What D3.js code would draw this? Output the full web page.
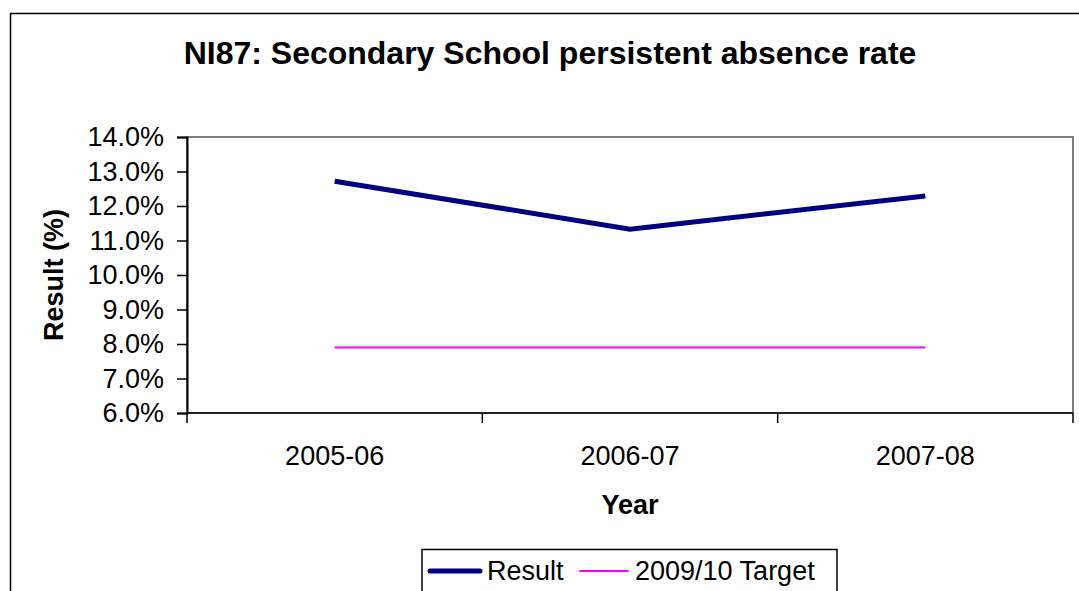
<!DOCTYPE html>
<html>
<head>
<meta charset="utf-8">
<script src="https://cdn.jsdelivr.net/npm/d3@7"></script>
<style>
  html, body { margin: 0; padding: 0; background: #fff; }
  svg { display: block; font-family: "Liberation Sans", Arial, sans-serif; }
</style>
</head>
<body>
<svg id="chart" width="1079" height="591"></svg>
<script>
const categories = ["2005-06", "2006-07", "2007-08"];
const resultValues = [12.72, 11.33, 12.29];
const targetValues = [7.9, 7.9, 7.9];
const yTicks = [6, 7, 8, 9, 10, 11, 12, 13, 14];
const seriesNames = ["Result", "2009/10 Target"];

const svg = d3.select("#chart");
const plot = { left: 187, top: 137, right: 1073, bottom: 413 };

// outer chart border
svg.append("rect")
  .attr("x", 10.5).attr("y", 13.5)
  .attr("width", 1100).attr("height", 700)
  .attr("fill", "#fff").attr("stroke", "#000").attr("stroke-width", 1.5);

const x = d3.scaleBand().domain(categories).range([plot.left, plot.right]).padding(0);
const y = d3.scaleLinear().domain([6, 14]).range([plot.bottom, plot.top]);

// plot area border (gray)
svg.append("rect")
  .attr("x", plot.left).attr("y", plot.top)
  .attr("width", plot.right - plot.left).attr("height", plot.bottom - plot.top)
  .attr("fill", "#fff").attr("stroke", "#808080").attr("stroke-width", 2);

// Title
svg.append("text")
  .attr("x", 550).attr("y", 64)
  .attr("text-anchor", "middle")
  .attr("font-size", 32).attr("font-weight", "bold")
  .text("NI87: Secondary School persistent absence rate");

// Y axis
const yAxis = d3.axisLeft(y).tickValues(yTicks).tickSize(10).tickPadding(13)
  .tickFormat(d => d3.format(".1f")(d) + "%");
const gy = svg.append("g").attr("transform", `translate(${plot.left},0)`).call(yAxis);
gy.select(".domain").attr("stroke", "#000").attr("stroke-width", 2);
gy.selectAll(".tick line").attr("stroke", "#000").attr("stroke-width", 1.5);
gy.selectAll(".tick text").attr("font-size", 27).attr("fill", "#000")
  .attr("font-family", "'Liberation Sans', Arial, sans-serif");

// X axis: ticks at category boundaries
const boundaries = categories.map(c => x(c)).concat([plot.right]);
const gx = svg.append("g");
gx.append("line")
  .attr("x1", plot.left).attr("x2", plot.right)
  .attr("y1", plot.bottom).attr("y2", plot.bottom)
  .attr("stroke", "#222").attr("stroke-width", 2);
gx.selectAll("line.xt").data(boundaries).join("line")
  .attr("class", "xt")
  .attr("x1", d => d).attr("x2", d => d)
  .attr("y1", plot.bottom).attr("y2", plot.bottom + 10)
  .attr("stroke", "#000").attr("stroke-width", 1.5);
gx.selectAll("text.xl").data(categories).join("text")
  .attr("class", "xl")
  .attr("x", d => x(d) + x.bandwidth() / 2)
  .attr("y", 465)
  .attr("text-anchor", "middle")
  .attr("font-size", 27)
  .text(d => d);

// axis titles
svg.append("text")
  .attr("x", x(categories[1]) + x.bandwidth() / 2).attr("y", 514)
  .attr("text-anchor", "middle").attr("font-size", 27).attr("font-weight", "bold")
  .text("Year");
svg.append("text")
  .attr("transform", `translate(63,${(plot.top + plot.bottom) / 2}) rotate(-90)`)
  .attr("text-anchor", "middle").attr("font-size", 27).attr("font-weight", "bold")
  .text("Result (%)");

// lines
const cx = d => x(d) + x.bandwidth() / 2;
const line = d3.line().x((d, i) => cx(categories[i])).y(d => y(d));
svg.append("path").datum(targetValues)
  .attr("d", line).attr("fill", "none")
  .attr("stroke", "#FF00FF").attr("stroke-width", 2);
svg.append("path").datum(resultValues)
  .attr("d", line).attr("fill", "none")
  .attr("stroke", "#000080").attr("stroke-width", 5);

// legend
const lg = svg.append("g");
lg.append("rect")
  .attr("x", 422).attr("y", 549.5).attr("width", 415).attr("height", 80)
  .attr("fill", "#fff").attr("stroke", "#000").attr("stroke-width", 1.5);
const legendItems = [
  { name: seriesNames[0], color: "#000080", w: 5, x1: 430, x2: 480, tx: 487 },
  { name: seriesNames[1], color: "#FF00FF", w: 2, x1: 580, x2: 628, tx: 635 }
];
legendItems.forEach(it => {
  lg.append("line").attr("x1", it.x1).attr("x2", it.x2)
    .attr("y1", 571).attr("y2", 571)
    .attr("stroke", it.color).attr("stroke-width", it.w).attr("stroke-linecap", "round");
  lg.append("text").attr("x", it.tx).attr("y", 580)
    .attr("font-size", 27).text(it.name);
});
</script>
</body>
</html>
